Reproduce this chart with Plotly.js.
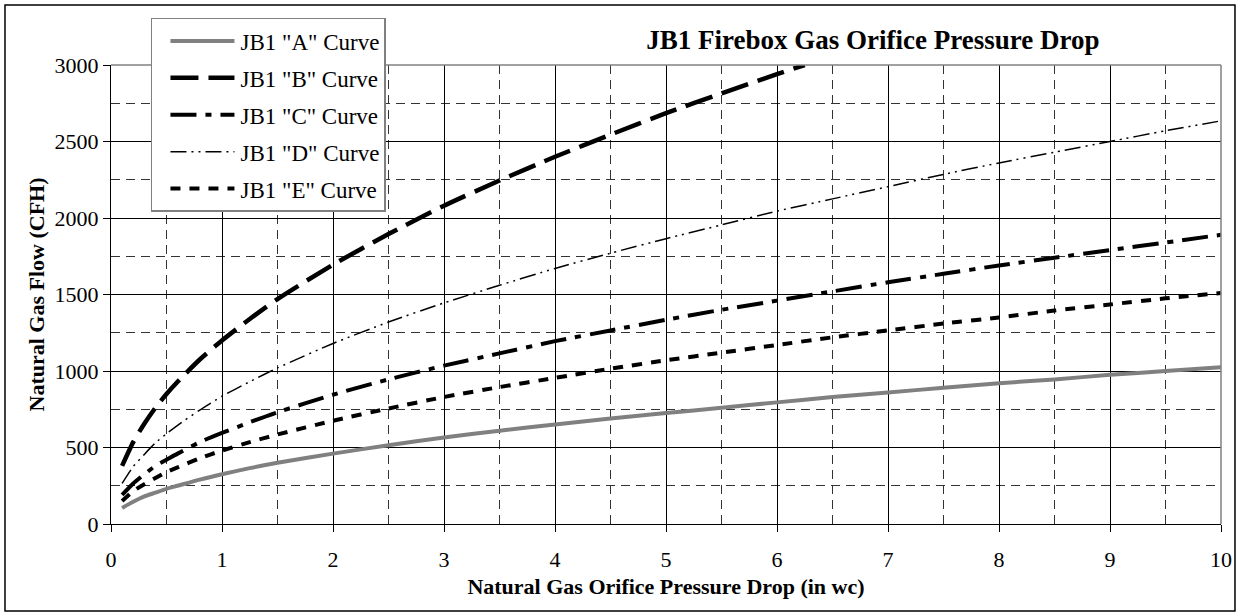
<!DOCTYPE html>
<html>
<head>
<meta charset="utf-8">
<script src="https://cdn.plot.ly/plotly-3.0.1.min.js"></script>
<style>
html,body{margin:0;padding:0;background:#fff;}
#chart{width:1240px;height:616px;}
</style>
</head>
<body>
<div id="chart"></div>
<script>
// Pressure drop (in wc)
const xFull = [0.1, 0.2, 0.3, 0.4, 0.5, 0.6, 0.8, 1, 1.25, 1.5, 2, 2.5, 3, 3.5, 4, 4.5, 5, 5.5, 6, 6.5, 7, 7.5, 8, 8.5, 9, 9.5, 10];
const xB = [0.1, 0.2, 0.3, 0.4, 0.5, 0.6, 0.8, 1, 1.25, 1.5, 2, 2.5, 3, 3.5, 4, 4.5, 5, 5.5, 6, 6.25];

// Natural gas flow (CFH)
const curveA = [105, 145, 180, 205, 230, 250, 290, 325, 365, 400, 460, 515, 565, 610, 650, 690, 725, 760, 795, 830, 860, 890, 920, 945, 975, 1000, 1025];
const curveB = [380, 535, 655, 760, 850, 930, 1075, 1200, 1340, 1470, 1695, 1895, 2080, 2245, 2400, 2545, 2685, 2815, 2940, 3000];
const curveC = [190, 265, 325, 380, 420, 460, 535, 595, 665, 730, 845, 945, 1035, 1115, 1195, 1265, 1335, 1400, 1460, 1520, 1580, 1635, 1690, 1740, 1790, 1840, 1890];
const curveD = [265, 375, 455, 530, 590, 645, 745, 835, 930, 1020, 1180, 1320, 1445, 1560, 1670, 1770, 1865, 1955, 2045, 2125, 2205, 2285, 2360, 2430, 2500, 2570, 2635];
const curveE = [150, 215, 260, 300, 340, 370, 430, 480, 535, 585, 675, 755, 830, 895, 955, 1015, 1070, 1120, 1170, 1220, 1265, 1310, 1350, 1395, 1435, 1475, 1510];

const seriesNames = ['JB1 "A" Curve', 'JB1 "B" Curve', 'JB1 "C" Curve', 'JB1 "D" Curve', 'JB1 "E" Curve'];

const FONT = 'Liberation Serif, Times New Roman, Times, serif';

function tr(x, y, i, color, width, dash) {
  return {
    type: 'scatter', mode: 'lines', x: x, y: y, name: seriesNames[i],
    legendgroup: 'g' + i,
    line: {color: color, width: width, dash: dash, shape: 'spline', smoothing: 0.6},
    hoverinfo: 'x+y+name'
  };
}

const data = [
  tr(xFull, curveA, 0, '#808080', 4, 'solid'),
  tr(xB, curveB, 1, '#000000', 4.5, '28px,10px'),
  tr(xFull, curveC, 2, '#000000', 4, '26px,9px,6px,9px'),
  tr(xFull, curveD, 3, '#000000', 1.5, '16px,5px,2px,5px,2px,5px'),
  tr(xFull, curveE, 4, '#000000', 4, '10px,9px')
];

const layout = {
  width: 1240, height: 616,
  paper_bgcolor: '#ffffff', plot_bgcolor: '#ffffff',
  margin: {l: 111, r: 19, t: 65, b: 92, pad: 0},
  font: {family: FONT, size: 22, color: '#000'},
  showlegend: true,
  title: {
    text: '<b>JB1 Firebox Gas Orifice Pressure Drop</b>',
    font: {family: FONT, size: 27, color: '#000'},
    x: 0.704, xanchor: 'center', xref: 'container',
    y: 0.935, yanchor: 'middle', yref: 'container'
  },
  xaxis: {
    range: [0, 10], dtick: 1, tick0: 0,
    showline: true, linecolor: '#000', linewidth: 1.2,
    ticks: 'outside', ticklen: 7, tickcolor: '#000', tickwidth: 1,
    ticklabelstandoff: 8,
    showgrid: true, gridcolor: '#000', gridwidth: 1,
    zeroline: false,
    minor: {dtick: 0.5, showgrid: true, gridcolor: '#333', gridwidth: 1, griddash: '9px,6px', ticks: ''},
    tickfont: {family: FONT, size: 22, color: '#000'},
    title: {text: '<b>Natural Gas Orifice Pressure Drop (in wc)</b>', font: {family: FONT, size: 22, color: '#000'}, standoff: 8},
    automargin: false, fixedrange: true
  },
  yaxis: {
    range: [0, 3000], dtick: 500, tick0: 0,
    showline: true, linecolor: '#000', linewidth: 1.2,
    ticks: 'outside', ticklen: 7, tickcolor: '#000', tickwidth: 1,
    showgrid: true, gridcolor: '#000', gridwidth: 1,
    zeroline: false,
    minor: {dtick: 250, showgrid: true, gridcolor: '#333', gridwidth: 1, griddash: '9px,6px', ticks: ''},
    tickfont: {family: FONT, size: 22, color: '#000'},
    title: {text: '<b>Natural Gas Flow (CFH)</b>', font: {family: FONT, size: 22, color: '#000'}, standoff: 3},
    automargin: false, fixedrange: true
  },
  legend: {
    x: 0.036, y: 1.1024, xanchor: 'left', yanchor: 'top',
    xref: 'paper', yref: 'paper',
    bgcolor: '#ffffff', bordercolor: '#808080', borderwidth: 1.5,
    font: {family: FONT, size: 23, color: '#000'},
    traceorder: 'grouped', tracegroupgap: 4,
    itemwidth: 78
  },
  shapes: [
    {type: 'line', xref: 'paper', yref: 'paper', x0: 0, x1: 1, y0: 1, y1: 1, line: {color: '#808080', width: 1.5}},
    {type: 'line', xref: 'paper', yref: 'paper', x0: 1, x1: 1, y0: 0, y1: 1, line: {color: '#808080', width: 1.5}},
    {type: 'rect', xref: 'paper', yref: 'paper', x0: -0.0955, x1: 1.0126, y0: -0.1895, y1: 1.1307, line: {color: '#000', width: 1.5}, fillcolor: 'rgba(0,0,0,0)', layer: 'below'}
  ]
};

Plotly.newPlot('chart', data, layout, {displayModeBar: false, staticPlot: true}).then(function (gd) {
  // lengthen legend line samples to match the reference key
  gd.querySelectorAll('.legend .legendlines path').forEach(function (p) {
    p.setAttribute('d', 'M18,0h64');
  });
});
</script>
</body>
</html>
